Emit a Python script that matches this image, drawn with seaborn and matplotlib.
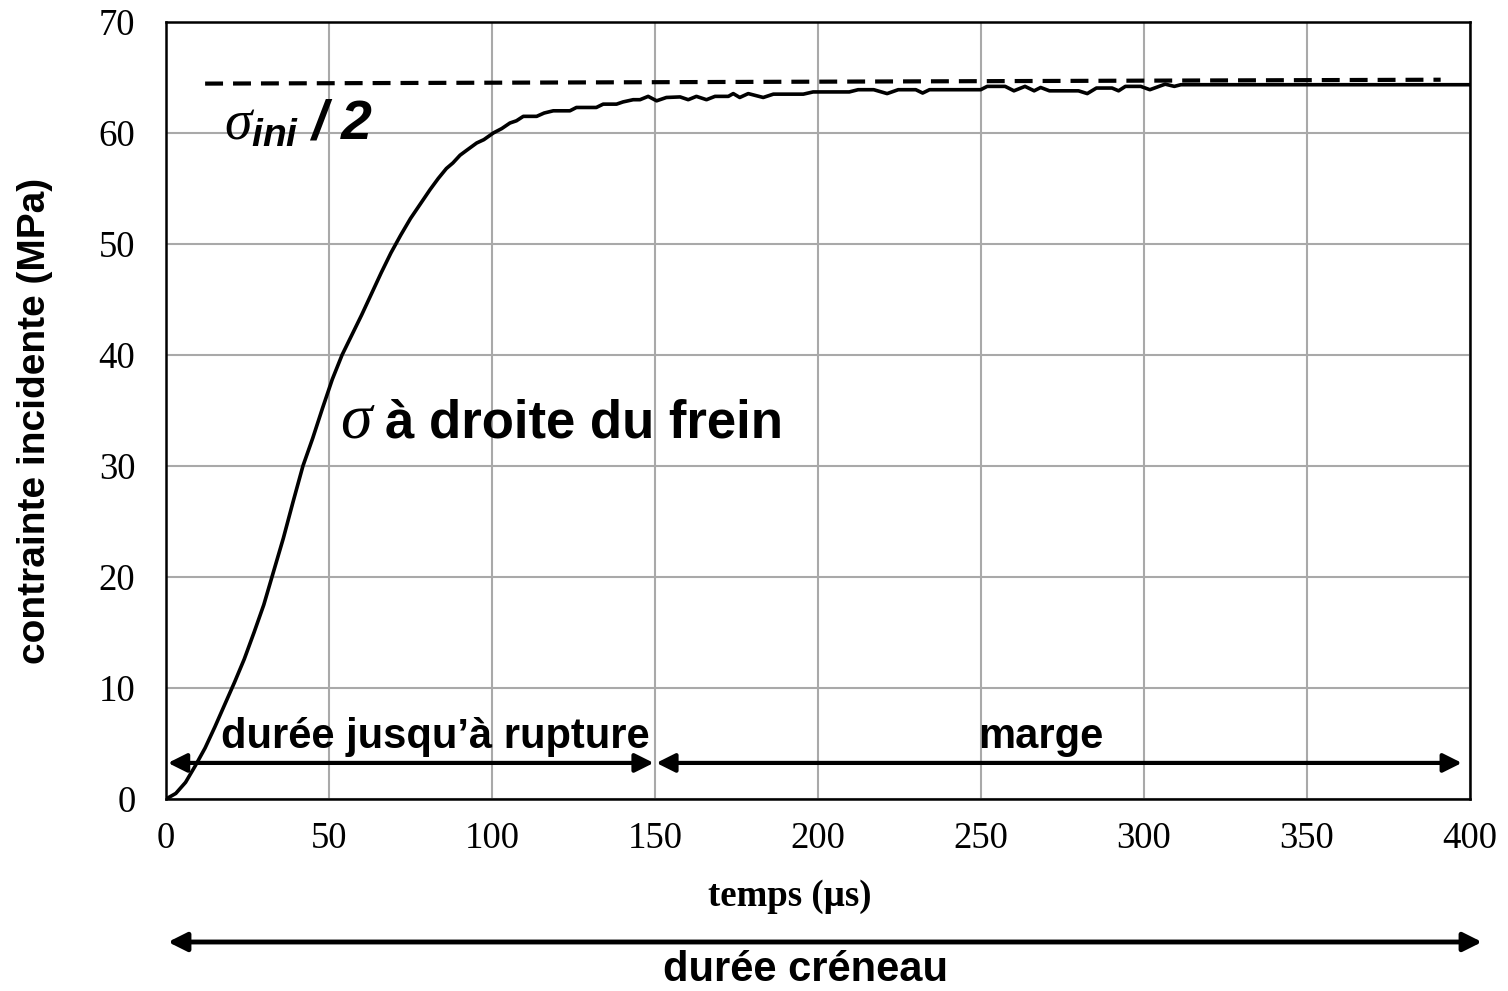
import numpy as np
import pandas as pd
import matplotlib
matplotlib.use("Agg")
import matplotlib.pyplot as plt
import seaborn as sns

# Incident stress measured to the right of the brake
temps_us = [0, 3, 6, 9, 12, 15, 18, 21, 24, 27, 30, 33, 36, 39, 42, 45, 48, 51,
            54, 57, 60, 63, 66, 69, 72, 75, 78, 81, 83.5, 86, 88, 90.2, 92.5,
            95.3, 97.5, 100.4, 103, 105.5, 107.5, 109.6, 111.5, 113.7, 116,
            118.8, 121, 123.9, 125.9, 129, 132, 134.1, 136, 138.2, 140.2,
            143.3, 145.4, 147.9, 150.5, 153.5, 157.7, 160.2, 162.7, 165.8,
            168.4, 172.5, 174, 176, 178.6, 183.2, 186.3, 195.5, 198.5, 209.6,
            212.3, 217.1, 221.2, 224.6, 230, 232.1, 234.2, 249.9, 251.9,
            257.4, 260.1, 263.5, 266.3, 268.3, 271, 279.9, 282.6, 285.4,
            290.2, 292.2, 294.3, 299, 301.8, 306.5, 309.3, 311.3, 400]
contrainte_mpa = [0, 0.5, 1.5, 3, 4.6, 6.5, 8.5, 10.5, 12.6, 15, 17.5, 20.5,
                  23.5, 26.8, 30, 32.5, 35.2, 37.8, 40, 41.8, 43.6, 45.5, 47.4,
                  49.2, 50.8, 52.3, 53.6, 54.9, 55.9, 56.8, 57.3, 58.0, 58.5,
                  59.1, 59.4, 60.0, 60.4, 60.9, 61.1, 61.5, 61.5, 61.5, 61.8,
                  62.0, 62.0, 62.0, 62.3, 62.3, 62.3, 62.6, 62.6, 62.6, 62.8,
                  63.0, 63.0, 63.3, 62.9, 63.2, 63.25, 63.0, 63.3, 63.0, 63.3,
                  63.3, 63.55, 63.2, 63.55, 63.2, 63.5, 63.5, 63.7, 63.7, 63.9,
                  63.9, 63.55, 63.9, 63.9, 63.6, 63.9, 63.9, 64.2, 64.2, 63.8,
                  64.2, 63.8, 64.1, 63.8, 63.8, 63.55, 64.05, 64.05, 63.8, 64.2,
                  64.2, 63.9, 64.4, 64.2, 64.35, 64.35]

# Half of the initial stress (reference level)
sigma_ini_t = [12, 391]
sigma_ini_half = [64.45, 64.8]

# Time spans shown with arrows
fin_rupture_us = 150
fin_creneau_us = 400

x_ticks = [0, 50, 100, 150, 200, 250, 300, 350, 400]
y_ticks = [0, 10, 20, 30, 40, 50, 60, 70]

sns.set_style("whitegrid")
plt.rcParams["font.family"] = ["Liberation Sans", "DejaVu Sans"]
plt.rcParams.update({"text.color": "black", "axes.labelcolor": "black",
                     "xtick.color": "black", "ytick.color": "black",
                     "mathtext.fontset": "custom",
                     "mathtext.rm": "Liberation Sans",
                     "mathtext.it": "Liberation Serif:italic",
                     "mathtext.bf": "Liberation Sans:bold",
                     "mathtext.bfit": "Liberation Sans:bold:italic"})

fig = plt.figure(figsize=(15.08, 9.91), dpi=100)
ax = fig.add_axes([166 / 1508, 1 - 799 / 991, (1470 - 166) / 1508, (799 - 22) / 991])

df = pd.DataFrame({"t": temps_us, "s": contrainte_mpa})
sns.lineplot(data=df, x="t", y="s", ax=ax, color="black", linewidth=2.6,
             estimator=None, sort=False)
ref = pd.DataFrame({"t": sigma_ini_t, "s": sigma_ini_half})
sns.lineplot(data=ref, x="t", y="s", ax=ax, color="black", linewidth=3.0,
             estimator=None, dashes=False, linestyle=(0, (4.3, 2.4)))

ax.set_xlim(0, 400)
ax.set_ylim(0, 70)
ax.set_xticks(x_ticks)
ax.set_yticks(y_ticks)
ax.grid(True, color="#a9a9a9", linewidth=1.5)
for sp in ax.spines.values():
    sp.set_color("black")
    sp.set_linewidth(1.8)
ax.tick_params(axis="both", length=0, labelsize=26.5, colors="black")
ax.tick_params(axis="y", pad=22)
ax.tick_params(axis="x", pad=16)
for lab in ax.get_xticklabels() + ax.get_yticklabels():
    lab.set_fontfamily("Liberation Serif")
ax.set_xlabel("")
ax.set_ylabel("")

fig.text(790 / 1508, 1 - 897 / 991, "temps (µs)", family="Liberation Serif",
         fontweight="bold", fontsize=26.5, ha="center", va="center")
fig.text(35 / 1508, 1 - 421 / 991, "contrainte incidente (MPa)",
         fontweight="bold", fontsize=28, rotation=90, ha="center", va="center")

# Curve annotation
ax.text(53.4, 32.6, "σ", family="Liberation Serif", style="italic",
        fontsize=46, va="baseline", ha="left")
ax.text(67.2, 32.6, "à droite du frein", fontweight="bold", fontsize=38,
        va="baseline", ha="left")

# Reference level annotation
ax.text(17.8, 59.4, r"$\sigma_{\mathbfit{ini}}\mathbfit{\ /\ 2}$",
        fontsize=40, va="baseline", ha="left")

# Duration arrows inside the axes
arrow_kw = dict(arrowstyle="<|-|>", color="black", linewidth=3,
                mutation_scale=28, shrinkA=0, shrinkB=0)
ax.annotate("", xy=(0.6, 3.25), xytext=(fin_rupture_us - 0.4, 3.25),
            arrowprops=arrow_kw)
ax.annotate("", xy=(fin_rupture_us + 0.4, 3.25), xytext=(fin_creneau_us - 2.5, 3.25),
            arrowprops=arrow_kw)
ax.text(82.5, 4.6, "durée jusqu’à rupture", fontweight="bold", fontsize=30,
        ha="center", va="baseline")
ax.text(268.4, 4.6, "marge", fontweight="bold", fontsize=30,
        ha="center", va="baseline")

# Full pulse duration below the axis
fig_arrow = dict(arrowstyle="<|-|>", color="black", linewidth=3.5,
                 mutation_scale=28, shrinkA=0, shrinkB=0)
fig.patches.append(matplotlib.patches.FancyArrowPatch(
    (168 / 1508, 1 - 942 / 991), (1482 / 1508, 1 - 942 / 991),
    transform=fig.transFigure, **fig_arrow))
fig.text(806 / 1508, 1 - 970 / 991, "durée créneau", fontweight="bold",
         fontsize=30, ha="center", va="center")

fig.savefig("out.png", dpi=100, facecolor="white")
